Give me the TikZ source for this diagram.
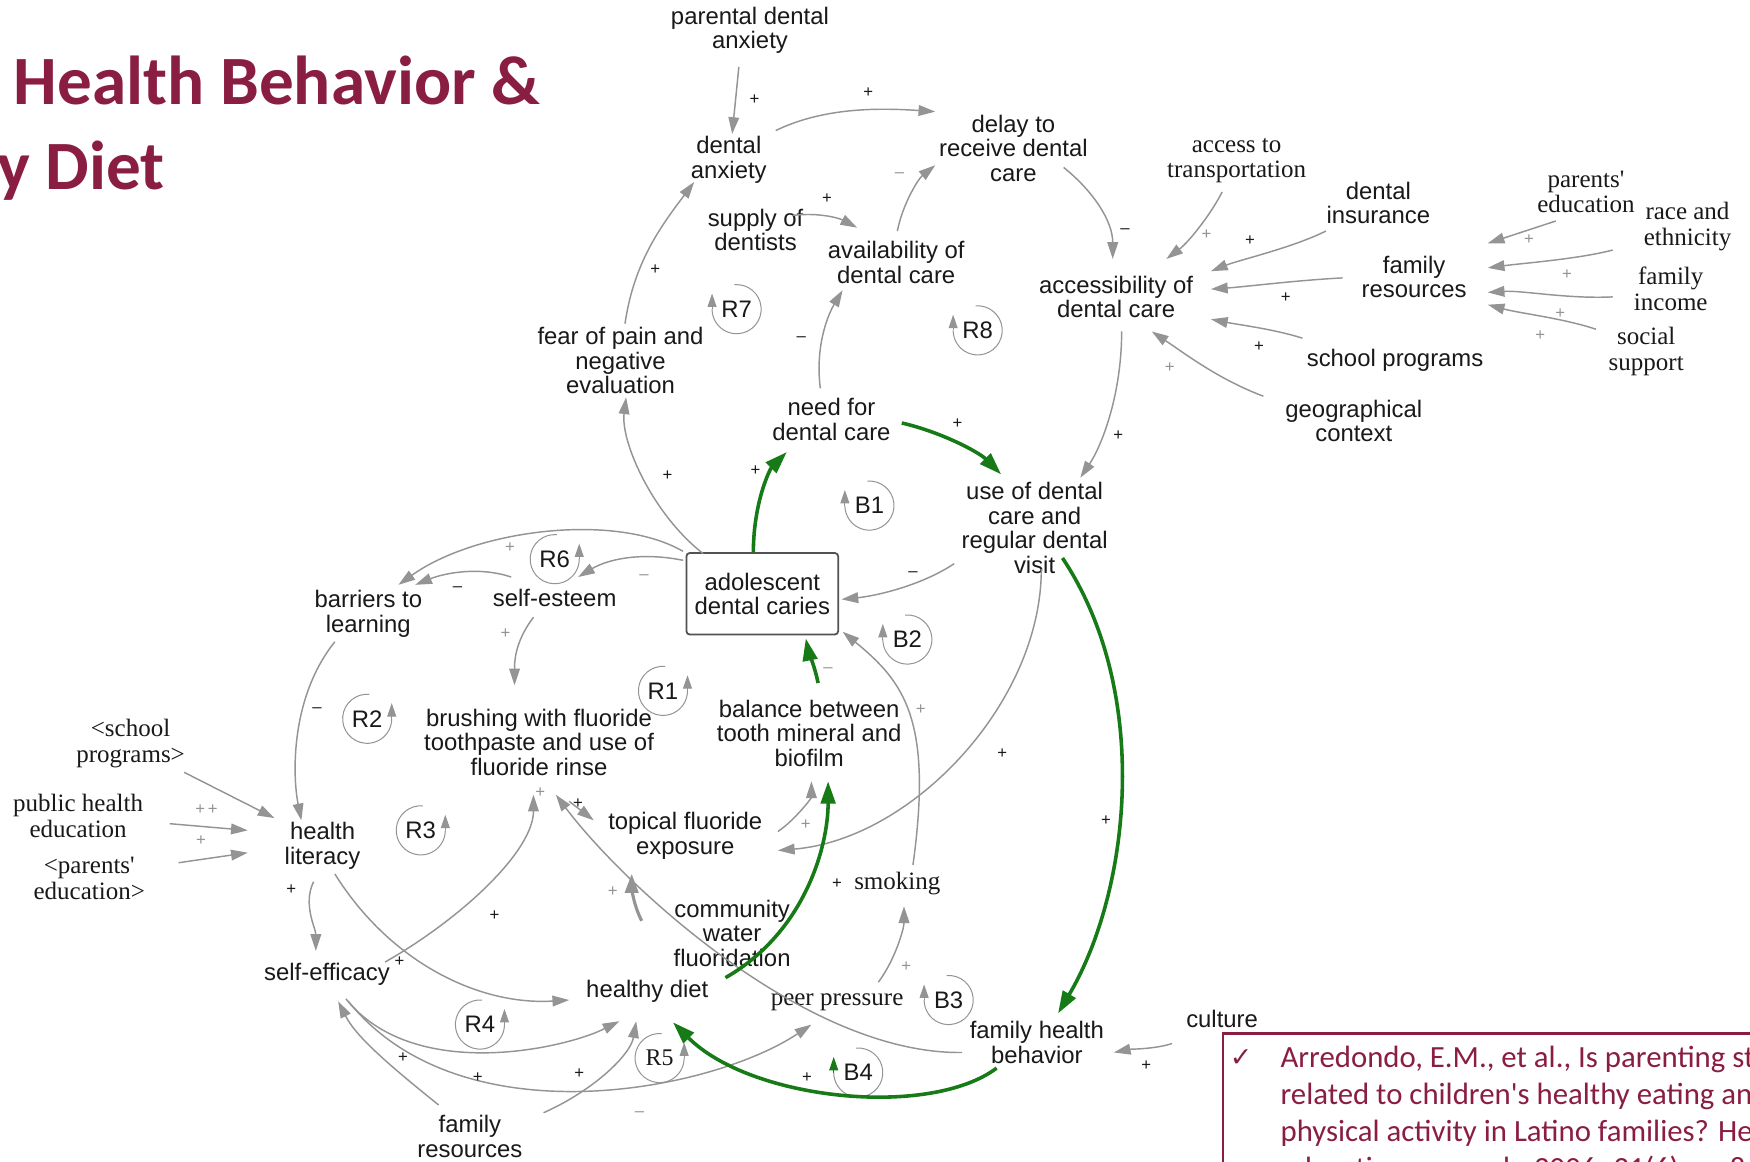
\documentclass[tikz,border=0pt]{standalone}
\usepackage{fontspec}
\usetikzlibrary{arrows.meta,calc}
\newfontfamily\arialf{Liberation Sans}
\newfontfamily\timesf{Liberation Serif}
\newfontfamily\calibf{Carlito}
\newfontfamily\symf{DejaVu Sans}
\definecolor{titlered}{RGB}{138,30,66}
\definecolor{linkgray}{RGB}{148,148,148}
\definecolor{loopgreen}{RGB}{22,122,22}
\definecolor{ink}{RGB}{25,25,25}

% loop marker: arrowhead on the left, ring running clockwise
\newcommand\loopleft[4][linkgray]{%
  \node[loopname] (#2) at #3 {#4};
  \draw[loopring] (#2.center) ++(-95:22) arc[start angle=-95,end angle=180,radius=22];
  \draw[looptip, draw=#1] ($(#2.center)+(-22,0)$) -- ++(0,-14);
}
% loop marker: arrowhead on the right, ring running counter-clockwise
\newcommand\loopright[4][linkgray]{%
  \node[loopname] (#2) at #3 {#4};
  \draw[loopring] (#2.center) ++(-85:22) arc[start angle=-85,end angle=-360,radius=22];
  \draw[looptip, draw=#1] ($(#2.center)+(22,0)$) -- ++(0,-14);
}

\begin{document}
\begin{tikzpicture}[x=0.5pt,y=-0.5pt,
  var/.style={font=\arialf\fontsize{10.7}{11}\selectfont, align=center, inner sep=1pt, text=ink},
  svar/.style={font=\timesf\fontsize{11.2}{11.5}\selectfont, align=center, inner sep=1pt, text=ink},
  loopname/.style={var},
  pol/.style={font=\arialf\fontsize{7.5}{7.5}\selectfont, inner sep=0pt, text=ink},
  gpol/.style={pol, text=linkgray},
  link/.style={draw=linkgray, line width=0.65pt, -{Triangle[length=7.5pt,width=4.8pt]}},
  thicklink/.style={draw=linkgray, line width=1.4pt, -{Triangle[length=8.5pt,width=6pt]}},
  glink/.style={draw=loopgreen, line width=1.6pt, -{Triangle[length=10pt,width=6.5pt]}},
  loopring/.style={draw=linkgray, line width=0.45pt},
  looptip/.style={line width=0.45pt, -{Triangle[length=6pt,width=4pt]}},
]
\useasboundingbox (0,0) rectangle (1568,1041);
\clip (0,0) rectangle (1568,1041);
\fill[white] (0,0) rectangle (1568,1041);

% ---- title ----
\node[font=\calibf\bfseries\fontsize{31}{31}\selectfont, text=titlered, anchor=base west, inner sep=0pt] (title1) at (12,94) {Health Behavior \&};
\node[font=\calibf\bfseries\fontsize{31}{31}\selectfont, text=titlered, anchor=base east, inner sep=0pt] (title2) at (148,170) {y Diet};

% ---- variables ----
\node[var] (pda) at (672,27) {parental dental\\anxiety};
\node[var] (da) at (653,143) {dental\\anxiety};
\node[var] (delay) at (908,133) {delay to\\receive dental\\care};
\node[var] (supply) at (677,206) {supply of\\dentists};
\node[var] (avail) at (803,235) {availability of\\dental care};
\node[var] (access) at (1000,266) {accessibility of\\dental care};
\node[svar] (transp) at (1108,144) {access to\\transportation};
\node[var] (insur) at (1235,182) {dental\\insurance};
\node[var] (famres) at (1267,248) {family\\resources};
\node[var] (school) at (1250,323) {school programs};
\node[var] (geo) at (1213,377) {geographical\\context};
\node[svar] (pedu) at (1421,172) {parents\textquotesingle\\education};
\node[svar] (race) at (1512,203) {race and\\ethnicity};
\node[svar] (income) at (1497,259) {family\\income};
\node[svar] (social) at (1475,315) {social\\support};
\node[var] (fear) at (556,323) {fear of pain and\\negative\\evaluation};
\node[var] (need) at (745,376) {need for\\dental care};
\node[var] (use) at (927,473) {use of dental\\care and\\regular dental\\visit};
\node[var, draw=ink!75, line width=0.8pt, rounded corners=1.5pt, minimum width=68pt, minimum height=36.5pt] (caries) at (683,532) {adolescent\\dental caries};
\node[var] (esteem) at (497,536) {self-esteem};
\node[var] (barriers) at (330,550) {barriers to\\learning};
\node[var] (brush) at (483,665) {brushing with fluoride\\toothpaste and use of\\fluoride rinse};
\node[var] (balance) at (725,657) {balance between\\tooth mineral and\\biofilm};
\node[svar] (schoolp) at (117,666) {<school\\programs>};
\node[svar] (phe) at (70,731) {public health\\education};
\node[svar] (parentsedu) at (80,787) {<parents\textquotesingle\\education>};
\node[var] (literacy) at (289,758) {health\\literacy};
\node[var] (topical) at (614,749) {topical fluoride\\exposure};
\node[svar] (smoking) at (804,792) {smoking};
\node[var] (cwf) at (656,836) {community\\water\\fluoridation};
\node[var] (efficacy) at (293,873) {self-efficacy};
\node[var] (diet) at (580,888) {healthy diet};
\node[svar] (peer) at (750,898) {peer pressure};
\node[var] (fhb) at (929,934) {family health\\behavior};
\node[var] (culture) at (1095,913) {culture};
\node[var] (famres2) at (421,1018) {family\\resources};

% ---- loop markers ----
\loopleft{R7}{(660,277)}{R7}
\loopleft{R8}{(876,296)}{R8}
\loopleft{B1}{(779,453)}{B1}
\loopright{R6}{(497,501)}{R6}
\loopleft{B2}{(813,573)}{B2}
\loopright{R1}{(594,619)}{R1}
\loopright{R2}{(329,644)}{R2}
\loopright{R3}{(377,744)}{R3}
\loopleft{B3}{(850,896)}{B3}
\loopright{R4}{(430,918)}{R4}
\loopright{R5}{(591,948)}{\timesf R5}
\loopleft[loopgreen]{B4}{(769,961)}{B4}

% ---- causal links ----
\draw[link] ($(pda)+(-10,33)$) -- ($(da)+(3,-23)$);
\draw[link] ($(da)+(42,-26)$) .. controls +(45,-22) and +(-45,-3) .. ($(delay)+(-70,-33)$);
\draw[link] ($(fear)+(4,-33)$) .. controls +(8,-55) and +(-30,40) .. ($(da)+(-31,20)$);
\draw[link] ($(supply)+(33,-13)$) .. controls +(25,-3) and +(-15,-8) .. ($(avail)+(-35,-31)$);
\draw[link] ($(avail)+(1,-28)$) .. controls +(5,-25) and +(-15,12) .. ($(delay)+(-70,15)$);
\draw[link] ($(need)+(-10,-28)$) .. controls +(-5,-40) and +(-12,20) .. ($(avail)+(-48,25)$);
\draw[link] ($(delay)+(45,17)$) .. controls +(25,20) and +(0,-35) .. ($(access)+(-3,-34)$);
\draw[link] ($(transp)+(-13,28)$) .. controls +(-10,20) and +(20,-15) .. ($(access)+(45,-34)$);
\draw[link] ($(insur)+(-47,25)$) .. controls +(-30,15) and +(25,-10) .. ($(access)+(85,-23)$);
\draw[link] ($(famres)+(-64,1)$) .. controls +(-40,2) and +(30,-2) .. ($(access)+(85,-7)$);
\draw[link] ($(school)+(-83,-20)$) .. controls +(-25,-8) and +(25,5) .. ($(access)+(85,20)$);
\draw[link] ($(geo)+(-81,-22)$) .. controls +(-40,-15) and +(30,20) .. ($(access)+(32,31)$);
\draw[link] ($(pedu)+(-27,26)$) -- ($(famres)+(66,-30)$);
\draw[link] ($(race)+(-67,21)$) .. controls +(-30,8) and +(30,-4) .. ($(famres)+(66,-8)$);
\draw[link] ($(income)+(-52,7)$) .. controls +(-40,2) and +(30,-2) .. ($(famres)+(66,14)$);
\draw[link] ($(social)+(-45,-20)$) .. controls +(-30,-10) and +(30,8) .. ($(famres)+(66,25)$);
\draw[link] ($(access)+(5,31)$) .. controls +(0,55) and +(20,-30) .. ($(use)+(41,-45)$);
\draw[link] ($(caries)+(-53,-36)$) .. controls +(-45,-35) and +(-5,40) .. ($(fear)+(5,33)$);
\draw[link] ($(use)+(-72,32)$) .. controls +(-30,20) and +(30,-3) .. ($(caries)+(71,5)$);
\draw[link] ($(caries)+(-71,-30)$) .. controls +(-40,-8) and +(25,-15) .. ($(esteem)+(21,-19)$);
\draw[link] ($(caries)+(-71,-38)$) .. controls +(-60,-35) and +(70,-50) .. ($(barriers)+(27,-26)$);
\draw[link] ($(esteem)+(-39,-19)$) .. controls +(-30,-10) and +(25,-10) .. ($(barriers)+(42,-26)$);
\draw[link] ($(esteem)+(-19,17)$) .. controls +(-15,20) and +(0,-25) .. ($(brush)+(-22,-51)$);
\draw[link] ($(barriers)+(-30,25)$) .. controls +(-40,50) and +(-8,-40) .. ($(literacy)+(-19,-23)$);
\draw[link] ($(schoolp)+(48,26)$) -- ($(literacy)+(-43,-25)$);
\draw[link] ($(phe)+(82,7)$) -- ($(literacy)+(-67,-14)$);
\draw[link] ($(parentsedu)+(80,-14)$) -- ($(literacy)+(-67,6)$);
\draw[link] ($(literacy)+(-8,32)$) .. controls +(-10,20) and +(0,-20) .. ($(efficacy)+(-10,-21)$);
\draw[link] ($(literacy)+(11,25)$) .. controls +(50,80) and +(-80,5) .. ($(diet)+(-70,8)$);
\draw[link] ($(efficacy)+(52,-11)$) .. controls +(70,-40) and +(0,50) .. ($(brush)+(-5,47)$);
\draw[link] ($(famres2)+(-28,-28)$) .. controls +(-50,-40) and +(15,30) .. ($(efficacy)+(10,24)$);
\draw[link] ($(famres2)+(66,-21)$) .. controls +(45,-20) and +(-5,30) .. ($(diet)+(-10,27)$);
\draw[link] ($(efficacy)+(17,22)$) .. controls +(60,75) and +(-50,25) .. ($(diet)+(-25,27)$);
\draw[link] ($(efficacy)+(19,24)$) .. controls +(100,125) and +(-90,60) .. ($(peer)+(-23,20)$);
\draw[link] ($(fhb)+(-67,9)$) .. controls +(-140,2) and +(60,80) .. ($(brush)+(15,47)$);
\draw[link] ($(brush)+(27,53)$) -- ($(topical)+(-82,-14)$);
\draw[thicklink] ($(cwf)+(-81,-11)$) .. controls +(-8,-15) and +(0,10) .. ($(topical)+(-48,34)$);
\draw[link] ($(topical)+(83,-4)$) .. controls +(15,-10) and +(0,15) .. ($(balance)+(2,43)$);
\draw[link] ($(smoking)+(14,-17)$) .. controls +(18,-130) and +(55,45) .. ($(caries)+(72,34)$);
\draw[link] ($(peer)+(37,-18)$) .. controls +(15,-20) and +(0,20) .. ($(smoking)+(6,20)$);
\draw[link] ($(use)+(6,37)$) .. controls +(0,120) and +(120,-10) .. ($(topical)+(83,13)$);
\draw[link] ($(culture)+(-45,22)$) .. controls +(-15,5) and +(15,-3) .. ($(fhb)+(69,9)$);

% ---- highlighted (green) links ----
\draw[glink] ($(need)+(63,3)$) .. controls +(35,8) and +(-20,-20) .. ($(use)+(-30,-48)$);
\draw[glink] ($(caries)+(-8,-37)$) .. controls +(0,-45) and +(-15,15) .. ($(need)+(-40,29)$);
\draw[glink] ($(cwf)+(-6,40)$) .. controls +(70,-40) and +(0,60) .. ($(balance)+(17,43)$);
\draw[glink] ($(balance)+(8,-45)$) .. controls +(-3,-15) and +(2,10) .. ($(caries)+(39,40)$);
\draw[glink] ($(use)+(25,27)$) .. controls +(80,120) and +(65,-110) .. ($(fhb)+(19,-26)$);
\draw[glink] ($(fhb)+(-36,23)$) .. controls +(-60,45) and +(70,70) .. ($(diet)+(23,28)$);

% ---- polarities ----
\node[pol] (s1) at (676,89) {+};
\node[pol] (s2) at (778,83) {+};
\node[pol] (s3) at (587,242) {+};
\node[pol] (s4) at (741,178) {+};
\node[gpol] (s5) at (806,157) {–};
\node[pol] (s6) at (718,304) {–};
\node[pol] (s7) at (1008,207) {–};
\node[gpol] (s8) at (1081,210) {+};
\node[pol] (s9) at (1120,216) {+};
\node[pol] (s10) at (1152,267) {+};
\node[pol] (s11) at (1128,311) {+};
\node[gpol] (s12) at (1048,329) {+};
\node[gpol] (s13) at (1370,215) {+};
\node[gpol] (s14) at (1404,246) {+};
\node[gpol] (s15) at (1398,281) {+};
\node[gpol] (s16) at (1380,301) {+};
\node[pol] (s17) at (1002,390) {+};
\node[pol] (s18) at (858,380) {+};
\node[pol] (s19) at (677,422) {+};
\node[pol] (s20) at (598,426) {+};
\node[pol] (s21) at (818,514) {–};
\node[gpol] (s22) at (577,517) {–};
\node[gpol] (s23) at (457,491) {+};
\node[pol] (s24) at (410,528) {–};
\node[gpol] (s25) at (453,568) {+};
\node[pol] (s26) at (284,636) {–};
\node[gpol] (s27) at (185,725) {+\,+};
\node[gpol] (s28) at (180,753) {+};
\node[pol] (s29) at (261,797) {+};
\node[pol] (s30) at (443,820) {+};
\node[pol] (s31) at (358,862) {+};
\node[gpol] (s32) at (484,710) {+};
\node[pol] (s33) at (518,720) {+};
\node[gpol] (s34) at (549,799) {+};
\node[gpol] (s35) at (722,739) {+};
\node[pol] (s36) at (750,792) {+};
\node[gpol] (s37) at (742,600) {–};
\node[gpol] (s38) at (825,636) {+};
\node[gpol] (s39) at (812,866) {+};
\node[pol] (s40) at (898,675) {+};
\node[pol] (s41) at (991,735) {+};
\node[pol] (s42) at (723,966) {+};
\node[pol] (s43) at (1027,955) {+};
\node[pol] (s44) at (361,948) {+};
\node[pol] (s45) at (428,966) {+};
\node[pol] (s46) at (519,962) {+};
\node[gpol] (s47) at (573,998) {–};

% ---- reference box ----
\node[draw=titlered, line width=1pt, anchor=north west, minimum width=270pt, minimum height=80pt, inner sep=0pt] (citebox) at (1095,925) {};
\node[font=\symf\fontsize{12}{12}\selectfont, text=titlered, inner sep=0pt] (tick) at (1112,948) {✓};
\node[font=\calibf\fontsize{13.8}{16.6}\selectfont, text=titlered, align=left, anchor=north west, inner sep=0pt] (citetext) at (1147,937)
  {Arredondo, E.M., et al., Is parenting style\\related to children's healthy eating and\\physical activity in Latino families? Health\\education research, 2006. 21(6): p. 862-871.};
\end{tikzpicture}
\end{document}
